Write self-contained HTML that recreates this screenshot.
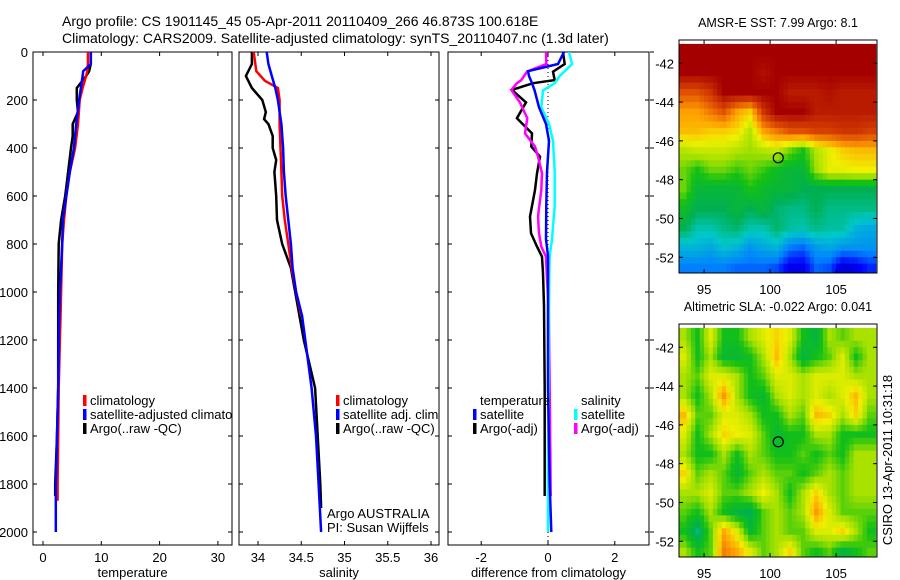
<!DOCTYPE html>
<html><head><meta charset="utf-8"><style>
html,body{margin:0;padding:0;background:#fff;}
svg{display:block;font-family:"Liberation Sans",sans-serif;}
</style></head><body>
<svg id="fig" width="900" height="580" viewBox="0 0 900 580">
<text x="62" y="26" font-size="14">Argo profile: CS 1901145_45 05-Apr-2011 20110409_266 46.873S 100.618E</text>
<text x="62" y="43" font-size="14">Climatology: CARS2009. Satellite-adjusted climatology: synTS_20110407.nc (1.3d later)</text>
<defs>
<clipPath id="c1"><rect x="33" y="52" width="199" height="493"/></clipPath>
<clipPath id="c2"><rect x="239" y="52" width="200" height="493"/></clipPath>
<clipPath id="c3"><rect x="448" y="52" width="201" height="493"/></clipPath>
</defs>
<g id="p1"></g>
<g id="p2"></g>
<g id="p3"></g>
<g id="m1"></g>
<g id="m2"></g>
<text transform="translate(892,460) rotate(-90)" font-size="13" text-anchor="middle">CSIRO 13-Apr-2011 10:31:18</text>
</svg>
<script>
const NS='http://www.w3.org/2000/svg';
// ---- data ----
const tDepth=[0,50,80,100,150,200,300,400,500,600,700,800,1000,1200,1400,1600,1800,1870];
const tClim=[7.7,7.7,7.6,7.4,6.8,6.3,6.0,5.5,4.6,4.0,3.6,3.3,3.1,2.9,2.7,2.6,2.5,2.5];
const tSatDepth=[0,50,80,100,200,300,400,500,600,700,800,1000,1200,1400,1600,1800,2000];
const tSat=[8.2,8.2,6.9,6.8,6.2,5.7,5.3,4.6,4.0,3.4,3.3,2.9,2.7,2.6,2.4,2.2,2.2];
const aDepth=[0,50,80,100,150,200,250,300,350,400,500,600,700,800,1000,1200,1400,1600,1800,1850];
const tArgo=[8.2,8.2,7.9,7.4,5.8,5.8,6.0,5.1,5.1,4.8,4.3,3.8,3.1,2.7,2.6,2.6,2.6,2.4,2.1,2.1];
const sClimDepth=[0,80,120,150,200,300,400,500,600,700,800,900,1000,1100];
const sClim=[33.95,33.98,34.08,34.23,34.25,34.25,34.26,34.27,34.28,34.31,34.35,34.39,34.44,34.5];
const sSatDepth=[0,50,100,150,200,250,300,400,500,600,700,800,900,1000,1100,1400,1600,1800,2000];
const sSat=[34.1,34.12,34.16,34.2,34.23,34.25,34.27,34.29,34.3,34.32,34.35,34.38,34.4,34.44,34.51,34.62,34.67,34.7,34.73];
const sArgoDepth=[0,50,100,150,200,250,280,300,350,400,450,500,600,700,800,900,1000,1200,1400,1600,1800,1900];
const sArgo=[33.93,33.93,33.86,33.93,34.05,34.09,34.07,34.12,34.17,34.17,34.21,34.19,34.21,34.22,34.28,34.38,34.43,34.53,34.66,34.69,34.72,34.73];
const dDepth=[0,50,80,100,130,160,230,300,370,500,640,780,850,920,1060,1400,1800,2000];
const dTempSat=[0.48,0.3,-0.6,-0.57,-0.48,-0.4,-0.27,-0.06,0.03,-0.03,-0.05,-0.06,0,0,0,0,0.05,0.1];
const dSalSat=[0.63,0.72,0.5,0.35,0.2,-0.15,-0.2,0.03,0.15,0.2,0.2,0.12,0.05,0.04,0.03,0.02,0,0];
const dArgoDepth=[0,50,82,117,130,158,210,276,339,394,436,506,575,686,755,811,853,922,1060,1400,1850];
const dTempArgo=[0.45,0.5,0.15,0.2,-0.45,-1.08,-0.66,-0.93,-0.48,-0.5,-0.24,-0.33,-0.39,-0.54,-0.51,-0.33,-0.18,-0.15,-0.12,-0.1,-0.1];
const dSalArgo=[-0.06,-0.05,-0.63,-0.8,-0.93,-1.1,-0.84,-0.62,-0.69,-0.39,-0.3,-0.18,-0.2,-0.3,-0.27,-0.2,-0.06,-0.04,0.02,0.05,0.08];
const depthTicks=[0,200,400,600,800,1000,1200,1400,1600,1800,2000];
const tempTicks=[0,10,20,30];
const salTicks=[34,34.5,35,35.5,36];
const salTickLabels=['34','34.5','35','35.5','36'];
const diffTicks=[-2,0,2];
const lonTicks=[95,100,105];
const latTicks=[-42,-44,-46,-48,-50,-52];
const sstGrid=[
[1,1,1,1,1,1,1,1,1,1,1,1,1,1,1],
[1,1,1,1,1,1,0.97,1,1,1,1,1,1,1,1],
[0.85,0.85,0.9,1,1,1,1,1,0.95,0.95,0.95,0.97,0.95,0.95,0.95],
[0.75,0.75,0.8,0.85,0.75,0.7,0.9,1,1,1,0.95,0.95,0.95,0.95,0.95],
[0.72,0.72,0.7,0.7,0.68,0.6,0.75,0.8,0.85,0.85,0.88,0.88,0.9,0.9,0.88],
[0.6,0.62,0.62,0.62,0.6,0.58,0.6,0.62,0.55,0.5,0.6,0.65,0.7,0.72,0.72],
[0.55,0.5,0.55,0.55,0.52,0.55,0.52,0.48,0.45,0.45,0.58,0.65,0.65,0.66,0.66],
[0.55,0.45,0.45,0.45,0.45,0.5,0.47,0.45,0.45,0.42,0.42,0.42,0.42,0.42,0.42],
[0.48,0.42,0.42,0.42,0.45,0.42,0.45,0.4,0.38,0.38,0.42,0.38,0.38,0.38,0.38],
[0.42,0.35,0.35,0.38,0.4,0.35,0.35,0.4,0.36,0.35,0.38,0.36,0.36,0.3,0.28],
[0.3,0.3,0.28,0.32,0.3,0.25,0.28,0.3,0.22,0.2,0.26,0.28,0.25,0.25,0.25],
[0.22,0.22,0.22,0.22,0.2,0.2,0.2,0.18,0.1,0.1,0.2,0.18,0.08,0.1,0.15]];
const slaGrid=[
[0.59,0.49,0.64,0.49,0.49,0.59,0.64,0.69,0.64,0.49,0.44,0.59,0.54,0.59,0.59],
[0.64,0.49,0.59,0.46,0.46,0.49,0.59,0.72,0.59,0.44,0.49,0.54,0.64,0.49,0.59],
[0.59,0.54,0.64,0.64,0.59,0.49,0.54,0.64,0.64,0.59,0.64,0.64,0.64,0.59,0.59],
[0.59,0.49,0.59,0.76,0.59,0.49,0.46,0.59,0.64,0.59,0.64,0.59,0.64,0.72,0.59],
[0.72,0.54,0.54,0.64,0.64,0.59,0.49,0.49,0.59,0.54,0.72,0.69,0.59,0.69,0.54],
[0.64,0.49,0.59,0.69,0.66,0.64,0.54,0.46,0.49,0.49,0.59,0.59,0.49,0.49,0.49],
[0.59,0.49,0.49,0.59,0.49,0.59,0.54,0.49,0.49,0.54,0.49,0.54,0.49,0.59,0.59],
[0.69,0.54,0.59,0.54,0.46,0.54,0.59,0.54,0.54,0.49,0.54,0.59,0.54,0.59,0.59],
[0.59,0.59,0.64,0.54,0.54,0.59,0.66,0.59,0.49,0.59,0.69,0.59,0.54,0.59,0.59],
[0.54,0.49,0.59,0.49,0.44,0.42,0.54,0.59,0.54,0.59,0.76,0.64,0.54,0.54,0.54],
[0.49,0.39,0.54,0.74,0.64,0.46,0.54,0.59,0.54,0.54,0.64,0.64,0.69,0.59,0.49],
[0.59,0.49,0.54,0.79,0.74,0.64,0.54,0.59,0.69,0.54,0.49,0.54,0.44,0.49,0.54]];
const floatLon=100.618, floatLat=-46.873;

function el(p,tag,at,txt){const e=document.createElementNS(NS,tag);for(const k in at)e.setAttribute(k,at[k]);if(txt!==undefined)e.textContent=txt;p.appendChild(e);return e;}
const yD=d=>52+d*0.24;
function line(g,xs,ds,xf,col,w,name){
  const pts=xs.map((v,i)=>xf(v).toFixed(1)+','+yD(ds[i]).toFixed(1)).join(' ');
  const p=el(g,'polyline',{points:pts,fill:'none',stroke:col,'stroke-width':w});
  
  
}
function panel(g,x0,x1,clip,xf,ticks,labels,xlabel,showY){
  el(g,'rect',{x:x0,y:52,width:x1-x0,height:493,fill:'#fff',stroke:'#000','stroke-width':1});
  depthTicks.forEach(d=>{const y=yD(d);
    el(g,'line',{x1:x0,x2:x0+4,y1:y,y2:y,stroke:'#000'});el(g,'line',{x1:x1-4,x2:x1,y1:y,y2:y,stroke:'#000'});
    if(showY){const t=el(g,'text',{x:28,y:y+5,'font-size':13,'text-anchor':'end'},String(d));
      }});
  ticks.forEach((v,i)=>{const x=xf(v);
    el(g,'line',{x1:x,x2:x,y1:52,y2:56,stroke:'#000'});el(g,'line',{x1:x,x2:x,y1:541,y2:545,stroke:'#000'});
    const t=el(g,'text',{x:x,y:562,'font-size':13,'text-anchor':'middle'},labels[i]);
    });
  const t=el(g,'text',{x:(x0+x1)/2,y:577,'font-size':13,'text-anchor':'middle'},xlabel);
  
  return el(g,'g',{'clip-path':'url(#'+clip+')'});
}
function legend(g,x,y,items){
  items.forEach((it,i)=>{
    if(it[0])el(g,'rect',{x:x,y:y+i*14-10,width:3.5,height:11,fill:it[0]});
    const t=el(g,'text',{x:x+7,y:y+i*14,'font-size':13},it[1]);
    });
}
// panel 1
const xT=v=>43+v*5.83;
const g1=panel(document.getElementById('p1'),33,232,'c1',xT,tempTicks,tempTicks.map(String),'temperature',true);
line(g1,tArgo,aDepth,xT,'#000',2.5,'temp-argo-line');
line(g1,tClim,tDepth,xT,'#f00',2.5,'temp-climatology-line');
line(g1,tSat,tSatDepth,xT,'#00f',2.5,'temp-satellite-line');
legend(g1,83,405,[['#f00','climatology'],['#00f','satellite-adjusted climatology'],['#000','Argo(..raw -QC)']]);
// panel 2
const xS=v=>258+(v-34)*86.5;
const g2=panel(document.getElementById('p2'),239,439,'c2',xS,salTicks,salTickLabels,'salinity',false);
line(g2,sArgo,sArgoDepth,xS,'#000',2.5,'sal-argo-line');
line(g2,sClim,sClimDepth,xS,'#f00',2.5,'sal-climatology-line');
line(g2,sSat,sSatDepth,xS,'#00f',2.5,'sal-satellite-line');
legend(g2,336,405,[['#f00','climatology'],['#00f','satellite adj. clim.'],['#000','Argo(..raw -QC)']]);
el(g2,'text',{x:327,y:518,'font-size':13},'Argo AUSTRALIA');
el(g2,'text',{x:327,y:532,'font-size':13},'PI: Susan Wijffels');
// panel 3
const xDf=v=>548+v*33.4;
const g3=panel(document.getElementById('p3'),448,649,'c3',xDf,diffTicks,diffTicks.map(String),'difference from climatology',false);
el(g3,'line',{x1:xDf(0),x2:xDf(0),y1:52,y2:545,stroke:'#000','stroke-dasharray':'1,3'});
line(g3,dTempArgo,dArgoDepth,xDf,'#000',2.5,'diff-temp-argo-line');
line(g3,dSalArgo,dArgoDepth,xDf,'#f0f',2.5,'diff-sal-argo-line');
line(g3,dSalSat,dDepth,xDf,'#0ff',2.5,'diff-sal-satellite-line');
line(g3,dTempSat,dDepth,xDf,'#00f',2.5,'diff-temp-satellite-line');
legend(g3,473,405,[[null,'temperature'],['#00f','satellite'],['#000','Argo(-adj)']]);
legend(g3,574,405,[[null,'salinity'],['#0ff','satellite'],['#f0f','Argo(-adj)']]);
depthTicks.forEach(d=>el(document.getElementById('p3'),'line',{x1:650,x2:654,y1:yD(d),y2:yD(d),stroke:'#000'}));
// maps
const stops=[[0,[0,0,140]],[0.12,[0,0,255]],[0.22,[0,128,255]],[0.33,[0,200,200]],[0.42,[0,176,80]],[0.5,[20,192,20]],[0.58,[160,224,0]],[0.66,[240,240,0]],[0.75,[255,160,0]],[0.85,[224,80,0]],[1,[165,0,0]]];
function cmap(v){for(let i=1;i<stops.length;i++){if(v<=stops[i][0]){const a=stops[i-1],b=stops[i],f=(v-a[0])/(b[0]-a[0]);return 'rgb('+a[1].map((c,k)=>Math.round(c+(b[1][k]-c)*f)).join(',')+')';}}return 'rgb(165,0,0)';}
function sample(grid,r,c){
  const R=grid.length,C=grid[0].length;
  r=Math.max(0,Math.min(R-1,r));c=Math.max(0,Math.min(C-1,c));
  const r0=Math.floor(r),c0=Math.floor(c),r1=Math.min(R-1,r0+1),c1=Math.min(C-1,c0+1),fr=r-r0,fc=c-c0;
  return grid[r0][c0]*(1-fr)*(1-fc)+grid[r0][c1]*(1-fr)*fc+grid[r1][c0]*fr*(1-fc)+grid[r1][c1]*fr*fc;
}
function map(id,top,grid,title){
  const g=document.getElementById(id);
  const xL=v=>679+(v-93.1)*13.2, yL=v=>top+(-40.8-v)*19.4;
  const S=3;
  for(let r=0;r<grid.length*S;r++)for(let c=0;c<grid[0].length*S;c++){
    const lon=93+c/S, lat=-41-r/S;
    const v=sample(grid,(r+0.5)/S-0.5,(c+0.5)/S-0.5);
    const x=xL(lon),y=yL(lat),w=xL(lon+1/S)-x,h=yL(lat-1/S)-y;
    const rc=el(g,'rect',{x:Math.max(x,679).toFixed(1),y:Math.max(y,top).toFixed(1),width:(w+0.6).toFixed(1),height:(h+0.6).toFixed(1),fill:cmap(v)});
    
    
  }
  el(g,'rect',{x:877,y:top-5,width:20,height:260,fill:'#fff'});
  el(g,'rect',{x:679,y:top+233,width:210,height:10,fill:'#fff'});
  el(g,'rect',{x:679,y:top,width:198,height:233,fill:'none',stroke:'#000'});
  latTicks.forEach(v=>{const y=yL(v);el(g,'line',{x1:679,x2:683,y1:y,y2:y,stroke:'#000'});el(g,'line',{x1:873,x2:877,y1:y,y2:y,stroke:'#000'});
    el(g,'text',{x:674,y:y+5,'font-size':13,'text-anchor':'end'},String(v));});
  lonTicks.forEach(v=>{const x=xL(v);el(g,'line',{x1:x,x2:x,y1:top,y2:top+4,stroke:'#000'});el(g,'line',{x1:x,x2:x,y1:top+229,y2:top+233,stroke:'#000'});
    el(g,'text',{x:x,y:top+254,'font-size':13,'text-anchor':'middle'},String(v));});
  const c=el(g,'circle',{cx:xL(floatLon),cy:yL(floatLat),r:5,fill:'none',stroke:'#000','stroke-width':1.2});
  
  
  el(g,'text',{x:778,y:top-13,'font-size':12.5,'text-anchor':'middle'},title);
}
map('m1',40,sstGrid,'AMSR-E SST: 7.99 Argo: 8.1');
map('m2',324,slaGrid,'Altimetric SLA: -0.022 Argo: 0.041');
</script>
</body></html>
